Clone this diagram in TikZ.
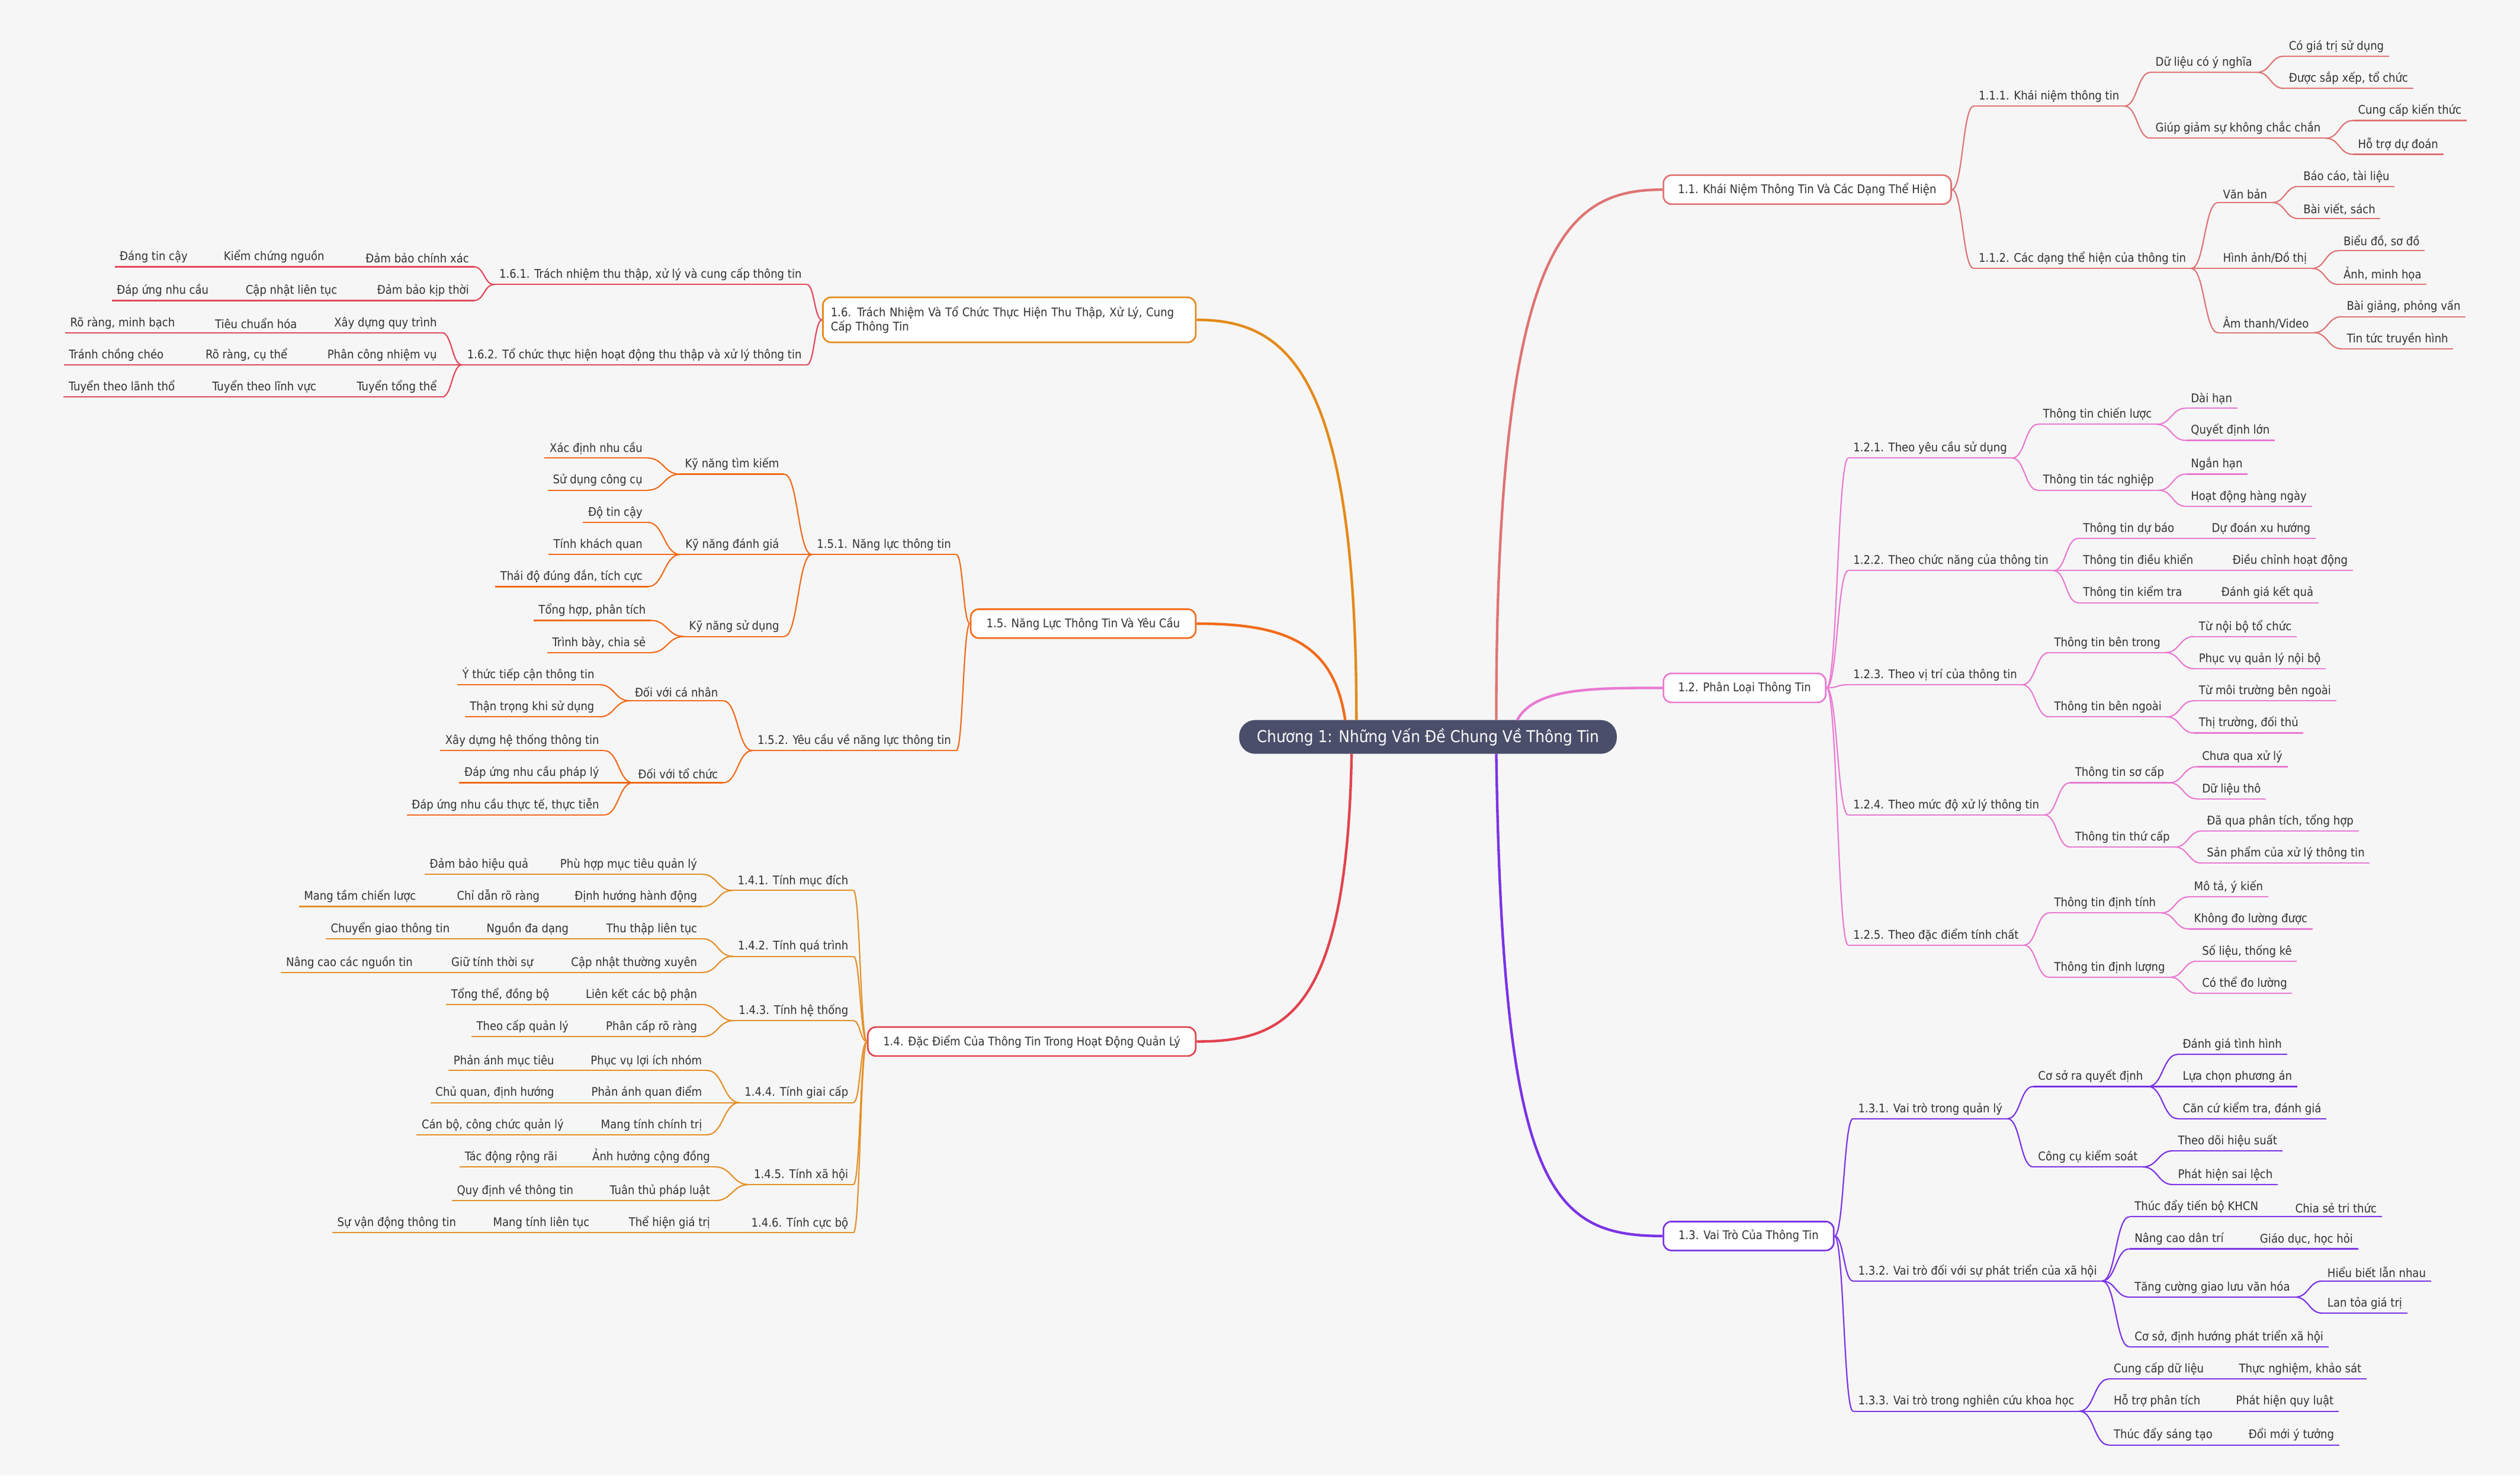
\documentclass[tikz,border=0pt]{standalone}
\usepackage{fontspec}
\setmainfont{DejaVu Sans Condensed}
\usetikzlibrary{calc}
\definecolor{bg}{HTML}{F6F6F6}
\definecolor{rootc}{HTML}{4B4E6A}
\definecolor{tc}{HTML}{333333}
\definecolor{cA}{HTML}{DF7474}
\definecolor{cB}{HTML}{E97AD2}
\definecolor{cC}{HTML}{7B33E6}
\definecolor{cD}{HTML}{E2434F}
\definecolor{cDs}{HTML}{E3902A}
\definecolor{cE}{HTML}{F26A1A}
\definecolor{cF}{HTML}{E48A1A}
\definecolor{cFs}{HTML}{E4475A}
\tikzset{
 txt/.style={font=\fontsize{7.4}{8.4}\selectfont, text=tc, inner xsep=3pt, inner ysep=2.2pt},
 ul/.style={line width=0.8pt},
 cn/.style={line width=0.8pt},
 box/.style={font=\fontsize{7.4}{9}\selectfont, text=tc, fill=white, line width=1pt, rounded corners=5pt, minimum height=18pt, inner sep=3pt},
 main/.style={line width=1.6pt},
}
\newcommand\RN[5]{\node[txt,anchor=south west] (#1) at (#2,#3) {#4}; \draw[ul,#5] (#1.south west)--(#1.south east);}
\newcommand\LN[5]{\node[txt,anchor=south east] (#1) at (#2,#3) {#4}; \draw[ul,#5] (#1.south west)--(#1.south east);}
\newcommand\CC[3]{\draw[cn,#3] let \p1=(#1), \p2=(#2) in (\p1) .. controls ({(\x1+\x2)/2},\y1) and ({(\x1+\x2)/2},\y2) .. (\p2);}
\newcommand\cR[3]{\CC{#1.south east}{#2.south west}{#3}}
\newcommand\cL[3]{\CC{#1.south west}{#2.south east}{#3}}
\begin{document}
\begin{tikzpicture}[x=1pt,y=-1pt]
\fill[bg] (0,0) rectangle (1568,918);
\useasboundingbox (0,0) rectangle (1568,918);
% root
\node[fill=rootc,text=white,rounded corners=10pt,minimum width=235pt,minimum height=21pt,font=\fontsize{10.2}{11}\selectfont] (R) at (888.5,458.5) {Chương 1: Những Vấn Đề Chung Về Thông Tin};
% boxes
\node[box,draw=cA,minimum width=179pt] (B1) at (1124.5,118) {1.1. Khái Niệm Thông Tin Và Các Dạng Thể Hiện};
\node[box,draw=cB,minimum width=101pt] (B2) at (1085.5,428) {1.2. Phân Loại Thông Tin};
\node[box,draw=cC,minimum width=106pt] (B3) at (1088,769) {1.3. Vai Trò Của Thông Tin};
\node[box,draw=cD,minimum width=204pt] (B4) at (642,648) {1.4. Đặc Điểm Của Thông Tin Trong Hoạt Động Quản Lý};
\node[box,draw=cE,minimum width=140pt] (B5) at (674,388) {1.5. Năng Lực Thông Tin Và Yêu Cầu};
\node[box,draw=cF,minimum width=232pt,minimum height=28pt,text width=222pt,align=left] (B6) at (628,199) {1.6. Trách Nhiệm Và Tổ Chức Thực Hiện Thu Thập, Xử Lý, Cung\\Cấp Thông Tin};
% main branches
\draw[main,cA] (931,448) .. controls (931,150) and (975,118) .. (B1.west);
\draw[main,cB] (944,448) .. controls (955,428) and (990,428) .. (B2.west);
\draw[main,cC] (931,469) .. controls (935,740) and (965,769) .. (B3.west);
\draw[main,cD] (841,469) .. controls (838,630) and (800,648) .. (B4.east);
\draw[main,cE] (837,448) .. controls (830,400) and (800,388) .. (B5.east);
\draw[main,cF] (844,448) .. controls (844,230) and (800,199) .. (B6.east);
% ---------- 1.1
\RN{a1}{1228}{66}{1.1.1. Khái niệm thông tin}{cA}
\RN{a11}{1338}{45}{Dữ liệu có ý nghĩa}{cA}
\RN{a111}{1421}{35}{Có giá trị sử dụng}{cA}
\RN{a112}{1421}{55}{Được sắp xếp, tổ chức}{cA}
\RN{a12}{1338}{86}{Giúp giảm sự không chắc chắn}{cA}
\RN{a121}{1464}{75}{Cung cấp kiến thức}{cA}
\RN{a122}{1464}{96}{Hỗ trợ dự đoán}{cA}
\RN{a2}{1228}{167}{1.1.2. Các dạng thể hiện của thông tin}{cA}
\RN{a21}{1380}{126}{Văn bản}{cA}
\RN{a211}{1430}{116}{Báo cáo, tài liệu}{cA}
\RN{a212}{1430}{136}{Bài viết, sách}{cA}
\RN{a22}{1380}{167}{Hình ảnh/Đồ thị}{cA}
\RN{a221}{1455}{156}{Biểu đồ, sơ đồ}{cA}
\RN{a222}{1455}{177}{Ảnh, minh họa}{cA}
\RN{a23}{1380}{207}{Âm thanh/Video}{cA}
\RN{a231}{1457}{197}{Bài giảng, phỏng vấn}{cA}
\RN{a232}{1457}{217}{Tin tức truyền hình}{cA}
\CC{B1.east}{a1.south west}{cA}\CC{B1.east}{a2.south west}{cA}
\foreach \pa/\ch in {a1/a11,a1/a12,a11/a111,a11/a112,a12/a121,a12/a122,a2/a21,a2/a22,a2/a23,a21/a211,a21/a212,a22/a221,a22/a222,a23/a231,a23/a232}{\cR{\pa}{\ch}{cA}}
% ---------- 1.2
\RN{b1}{1150}{285}{1.2.1. Theo yêu cầu sử dụng}{cB}
\RN{b11}{1268}{264}{Thông tin chiến lược}{cB}
\RN{b111}{1360}{254}{Dài hạn}{cB}
\RN{b112}{1360}{274}{Quyết định lớn}{cB}
\RN{b12}{1268}{305}{Thông tin tác nghiệp}{cB}
\RN{b121}{1360}{295}{Ngắn hạn}{cB}
\RN{b122}{1360}{315}{Hoạt động hàng ngày}{cB}
\RN{b2}{1150}{355}{1.2.2. Theo chức năng của thông tin}{cB}
\RN{b21}{1293}{335}{Thông tin dự báo}{cB}
\RN{b211}{1373}{335}{Dự đoán xu hướng}{cB}
\RN{b22}{1293}{355}{Thông tin điều khiển}{cB}
\RN{b221}{1386}{355}{Điều chỉnh hoạt động}{cB}
\RN{b23}{1293}{375}{Thông tin kiểm tra}{cB}
\RN{b231}{1379}{375}{Đánh giá kết quả}{cB}
\RN{b3}{1150}{426}{1.2.3. Theo vị trí của thông tin}{cB}
\RN{b31}{1275}{406}{Thông tin bên trong}{cB}
\RN{b311}{1365}{396}{Từ nội bộ tổ chức}{cB}
\RN{b312}{1365}{416}{Phục vụ quản lý nội bộ}{cB}
\RN{b32}{1275}{446}{Thông tin bên ngoài}{cB}
\RN{b321}{1365}{436}{Từ môi trường bên ngoài}{cB}
\RN{b322}{1365}{456}{Thị trường, đối thủ}{cB}
\RN{b4}{1150}{507}{1.2.4. Theo mức độ xử lý thông tin}{cB}
\RN{b41}{1288}{487}{Thông tin sơ cấp}{cB}
\RN{b411}{1367}{477}{Chưa qua xử lý}{cB}
\RN{b412}{1367}{497}{Dữ liệu thô}{cB}
\RN{b42}{1288}{527}{Thông tin thứ cấp}{cB}
\RN{b421}{1370}{517}{Đã qua phân tích, tổng hợp}{cB}
\RN{b422}{1370}{537}{Sản phẩm của xử lý thông tin}{cB}
\RN{b5}{1150}{588}{1.2.5. Theo đặc điểm tính chất}{cB}
\RN{b51}{1275}{568}{Thông tin định tính}{cB}
\RN{b511}{1362}{558}{Mô tả, ý kiến}{cB}
\RN{b512}{1362}{578}{Không đo lường được}{cB}
\RN{b52}{1275}{608}{Thông tin định lượng}{cB}
\RN{b521}{1367}{598}{Số liệu, thống kê}{cB}
\RN{b522}{1367}{618}{Có thể đo lường}{cB}
\foreach \ch in {b1,b2,b3,b4,b5}{\CC{B2.east}{\ch.south west}{cB}}
\foreach \pa/\ch in {b1/b11,b1/b12,b11/b111,b11/b112,b12/b121,b12/b122,b2/b21,b2/b22,b2/b23,b21/b211,b22/b221,b23/b231,b3/b31,b3/b32,b31/b311,b31/b312,b32/b321,b32/b322,b4/b41,b4/b42,b41/b411,b41/b412,b42/b421,b42/b422,b5/b51,b5/b52,b51/b511,b51/b512,b52/b521,b52/b522}{\cR{\pa}{\ch}{cB}}
% ---------- 1.3
\RN{c1}{1153}{696}{1.3.1. Vai trò trong quản lý}{cC}
\RN{c11}{1265}{676}{Cơ sở ra quyết định}{cC}
\RN{c111}{1355}{656}{Đánh giá tình hình}{cC}
\RN{c112}{1355}{676}{Lựa chọn phương án}{cC}
\RN{c113}{1355}{696}{Căn cứ kiểm tra, đánh giá}{cC}
\RN{c12}{1265}{726}{Công cụ kiểm soát}{cC}
\RN{c121}{1352}{716}{Theo dõi hiệu suất}{cC}
\RN{c122}{1352}{737}{Phát hiện sai lệch}{cC}
\RN{c2}{1153}{797}{1.3.2. Vai trò đối với sự phát triển của xã hội}{cC}
\RN{c21}{1325}{757}{Thúc đẩy tiến bộ KHCN}{cC}
\RN{c211}{1425}{757}{Chia sẻ tri thức}{cC}
\RN{c22}{1325}{777}{Nâng cao dân trí}{cC}
\RN{c221}{1403}{777}{Giáo dục, học hỏi}{cC}
\RN{c23}{1325}{807}{Tăng cường giao lưu văn hóa}{cC}
\RN{c231}{1445}{797}{Hiểu biết lẫn nhau}{cC}
\RN{c232}{1445}{817}{Lan tỏa giá trị}{cC}
\RN{c24}{1325}{838}{Cơ sở, định hướng phát triển xã hội}{cC}
\RN{c3}{1153}{878}{1.3.3. Vai trò trong nghiên cứu khoa học}{cC}
\RN{c31}{1312}{858}{Cung cấp dữ liệu}{cC}
\RN{c311}{1390}{858}{Thực nghiệm, khảo sát}{cC}
\RN{c32}{1312}{878}{Hỗ trợ phân tích}{cC}
\RN{c321}{1388}{878}{Phát hiện quy luật}{cC}
\RN{c33}{1312}{899}{Thúc đẩy sáng tạo}{cC}
\RN{c331}{1396}{899}{Đổi mới ý tưởng}{cC}
\foreach \ch in {c1,c2,c3}{\CC{B3.east}{\ch.south west}{cC}}
\foreach \pa/\ch in {c1/c11,c1/c12,c11/c111,c11/c112,c11/c113,c12/c121,c12/c122,c2/c21,c2/c22,c2/c23,c2/c24,c21/c211,c22/c221,c23/c231,c23/c232,c3/c31,c3/c32,c3/c33,c31/c311,c32/c321,c33/c331}{\cR{\pa}{\ch}{cC}}
% ---------- 1.6
\LN{f1}{502}{177}{1.6.1. Trách nhiệm thu thập, xử lý và cung cấp thông tin}{cFs}
\LN{f11}{295}{166}{Đảm bảo chính xác}{cFs}
\LN{f111}{205}{166}{Kiểm chứng nguồn}{cFs}
\LN{f1111}{120}{166}{Đáng tin cậy}{cFs}
\LN{f12}{295}{187}{Đảm bảo kịp thời}{cFs}
\LN{f121}{213}{187}{Cập nhật liên tục}{cFs}
\LN{f1211}{133}{187}{Đáp ứng nhu cầu}{cFs}
\LN{f2}{502}{227}{1.6.2. Tổ chức thực hiện hoạt động thu thập và xử lý thông tin}{cFs}
\LN{f21}{275}{207}{Xây dựng quy trình}{cFs}
\LN{f211}{188}{207}{Tiêu chuẩn hóa}{cFs}
\LN{f2111}{112}{207}{Rõ ràng, minh bạch}{cFs}
\LN{f22}{275}{227}{Phân công nhiệm vụ}{cFs}
\LN{f221}{182}{227}{Rõ ràng, cụ thể}{cFs}
\LN{f2211}{105}{227}{Tránh chồng chéo}{cFs}
\LN{f23}{275}{247}{Tuyển tổng thể}{cFs}
\LN{f231}{200}{247}{Tuyển theo lĩnh vực}{cFs}
\LN{f2311}{112}{247}{Tuyển theo lãnh thổ}{cFs}
\foreach \ch in {f1,f2}{\CC{B6.west}{\ch.south east}{cFs}}
\foreach \pa/\ch in {f1/f11,f1/f12,f11/f111,f111/f1111,f12/f121,f121/f1211,f2/f21,f2/f22,f2/f23,f21/f211,f211/f2111,f22/f221,f221/f2211,f23/f231,f231/f2311}{\cL{\pa}{\ch}{cFs}}
% ---------- 1.5
\LN{e1}{595}{345}{1.5.1. Năng lực thông tin}{cE}
\LN{e11}{488}{295}{Kỹ năng tìm kiếm}{cE}
\LN{e111}{403}{285}{Xác định nhu cầu}{cE}
\LN{e112}{403}{305}{Sử dụng công cụ}{cE}
\LN{e12}{488}{345}{Kỹ năng đánh giá}{cE}
\LN{e121}{403}{325}{Độ tin cậy}{cE}
\LN{e122}{403}{345}{Tính khách quan}{cE}
\LN{e123}{403}{365}{Thái độ đúng đắn, tích cực}{cE}
\LN{e13}{488}{396}{Kỹ năng sử dụng}{cE}
\LN{e131}{405}{386}{Tổng hợp, phân tích}{cE}
\LN{e132}{405}{406}{Trình bày, chia sẻ}{cE}
\LN{e2}{595}{467}{1.5.2. Yêu cầu về năng lực thông tin}{cE}
\LN{e21}{450}{436}{Đối với cá nhân}{cE}
\LN{e211}{373}{426}{Ý thức tiếp cận thông tin}{cE}
\LN{e212}{373}{446}{Thận trọng khi sử dụng}{cE}
\LN{e22}{450}{487}{Đối với tổ chức}{cE}
\LN{e221}{376}{467}{Xây dựng hệ thống thông tin}{cE}
\LN{e222}{376}{487}{Đáp ứng nhu cầu pháp lý}{cE}
\LN{e223}{376}{507}{Đáp ứng nhu cầu thực tế, thực tiễn}{cE}
\foreach \ch in {e1,e2}{\CC{B5.west}{\ch.south east}{cE}}
\foreach \pa/\ch in {e1/e11,e1/e12,e1/e13,e11/e111,e11/e112,e12/e121,e12/e122,e12/e123,e13/e131,e13/e132,e2/e21,e2/e22,e21/e211,e21/e212,e22/e221,e22/e222,e22/e223}{\cL{\pa}{\ch}{cE}}
% ---------- 1.4
\LN{d1}{531}{554}{1.4.1. Tính mục đích}{cDs}
\LN{d11}{437}{544}{Phù hợp mục tiêu quản lý}{cDs}
\LN{d111}{332}{544}{Đảm bảo hiệu quả}{cDs}
\LN{d12}{437}{564}{Định hướng hành động}{cDs}
\LN{d121}{339}{564}{Chỉ dẫn rõ ràng}{cDs}
\LN{d1211}{262}{564}{Mang tầm chiến lược}{cDs}
\LN{d2}{531}{595}{1.4.2. Tính quá trình}{cDs}
\LN{d21}{437}{584}{Thu thập liên tục}{cDs}
\LN{d211}{357}{584}{Nguồn đa dạng}{cDs}
\LN{d2111}{283}{584}{Chuyển giao thông tin}{cDs}
\LN{d22}{437}{605}{Cập nhật thường xuyên}{cDs}
\LN{d221}{335}{605}{Giữ tính thời sự}{cDs}
\LN{d2211}{260}{605}{Nâng cao các nguồn tin}{cDs}
\LN{d3}{531}{635}{1.4.3. Tính hệ thống}{cDs}
\LN{d31}{437}{625}{Liên kết các bộ phận}{cDs}
\LN{d311}{345}{625}{Tổng thể, đồng bộ}{cDs}
\LN{d32}{437}{645}{Phân cấp rõ ràng}{cDs}
\LN{d321}{357}{645}{Theo cấp quản lý}{cDs}
\LN{d4}{531}{686}{1.4.4. Tính giai cấp}{cDs}
\LN{d41}{440}{666}{Phục vụ lợi ích nhóm}{cDs}
\LN{d411}{348}{666}{Phản ánh mục tiêu}{cDs}
\LN{d42}{440}{686}{Phản ánh quan điểm}{cDs}
\LN{d421}{348}{686}{Chủ quan, định hướng}{cDs}
\LN{d43}{440}{706}{Mang tính chính trị}{cDs}
\LN{d431}{354}{706}{Cán bộ, công chức quản lý}{cDs}
\LN{d5}{531}{737}{1.4.5. Tính xã hội}{cDs}
\LN{d51}{445}{726}{Ảnh hưởng cộng đồng}{cDs}
\LN{d511}{350}{726}{Tác động rộng rãi}{cDs}
\LN{d52}{445}{747}{Tuân thủ pháp luật}{cDs}
\LN{d521}{360}{747}{Quy định về thông tin}{cDs}
\LN{d6}{531}{767}{1.4.6. Tính cực bộ}{cDs}
\LN{d61}{445}{767}{Thể hiện giá trị}{cDs}
\LN{d611}{370}{767}{Mang tính liên tục}{cDs}
\LN{d6111}{287}{767}{Sự vận động thông tin}{cDs}
\foreach \ch in {d1,d2,d3,d4,d5,d6}{\CC{B4.west}{\ch.south east}{cDs}}
\foreach \pa/\ch in {d1/d11,d1/d12,d11/d111,d12/d121,d121/d1211,d2/d21,d2/d22,d21/d211,d211/d2111,d22/d221,d221/d2211,d3/d31,d3/d32,d31/d311,d32/d321,d4/d41,d4/d42,d4/d43,d41/d411,d42/d421,d43/d431,d5/d51,d5/d52,d51/d511,d52/d521,d6/d61,d61/d611,d611/d6111}{\cL{\pa}{\ch}{cDs}}
\end{tikzpicture}
\end{document}
